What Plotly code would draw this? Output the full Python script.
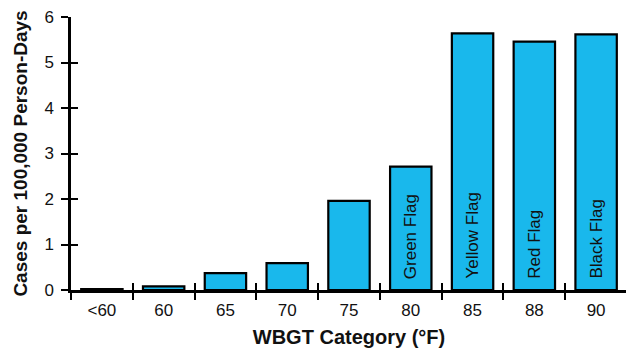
import plotly.graph_objects as go

categories = ["<60", "60", "65", "70", "75", "80", "85", "88", "90"]
rates = [0.02, 0.08, 0.37, 0.59, 1.96, 2.71, 5.64, 5.46, 5.62]
flag_labels = ["", "", "", "", "", "Green Flag", "Yellow Flag", "Red Flag", "Black Flag"]
y_ticks = [0, 1, 2, 3, 4, 5, 6]

FONT = "Liberation Sans, Arial, sans-serif"
TXT = "#111"

fig = go.Figure()
fig.add_trace(go.Bar(
    x=categories, y=rates,
    marker=dict(color="#19b8ec", line=dict(color="black", width=2.2)),
    width=0.67, cliponaxis=False,
))
# overlay trace for inward tick halves
fig.add_trace(go.Scatter(x=categories, y=[None]*len(categories), xaxis="x2", yaxis="y2",
                         showlegend=False, hoverinfo="skip"))

for i, lab in enumerate(flag_labels):
    if lab:
        fig.add_annotation(x=i, y=0.2, xref="x", yref="y", text=lab, textangle=-90,
                           showarrow=False, yanchor="bottom", xanchor="center",
                           font=dict(family=FONT, size=17, color=TXT))

fig.update_layout(
    width=626, height=343,
    margin=dict(l=63, r=7, t=9, b=61),
    plot_bgcolor="white", paper_bgcolor="white",
    showlegend=False,
    font=dict(family=FONT, color=TXT),
    xaxis=dict(
        type="category", tickson="boundaries", ticks="outside", ticklen=7, tickwidth=2.2,
        tickcolor="black", showline=True, linecolor="black", linewidth=2.5,
        showgrid=False, zeroline=False, tickfont=dict(size=17, color=TXT),
        title=dict(text="<b>WBGT Category (°F)</b>", font=dict(size=20, color=TXT), standoff=11),
        range=[-0.5, 8.5], automargin=False, ticklabeloverflow="allow", ticklabelstandoff=3,
    ),
    xaxis2=dict(
        type="category", overlaying="x", tickson="boundaries", ticks="inside", ticklen=7,
        tickwidth=2.2, tickcolor="black", showticklabels=False, showgrid=False,
        zeroline=False, range=[-0.5, 8.5], anchor="y2", categoryarray=categories,
        categoryorder="array", automargin=False,
    ),
    yaxis=dict(
        range=[0, 6], tickvals=y_ticks, ticks="outside", ticklen=7, tickwidth=2.2,
        tickcolor="black", showline=True, linecolor="black", linewidth=2.5,
        showgrid=False, zeroline=False, tickfont=dict(size=17, color=TXT),
        title=dict(text="<b>Cases per 100,000 Person-Days</b>", font=dict(size=19, color=TXT), standoff=12),
        automargin=False, ticklabeloverflow="allow", ticklabelstandoff=4,
    ),
    yaxis2=dict(
        range=[0, 6], tickvals=y_ticks, overlaying="y", ticks="inside", ticklen=7,
        tickwidth=2.2, tickcolor="black", showticklabels=False, showgrid=False,
        zeroline=False, anchor="x2", side="left", automargin=False,
    ),
)

fig.write_html("out.html")
